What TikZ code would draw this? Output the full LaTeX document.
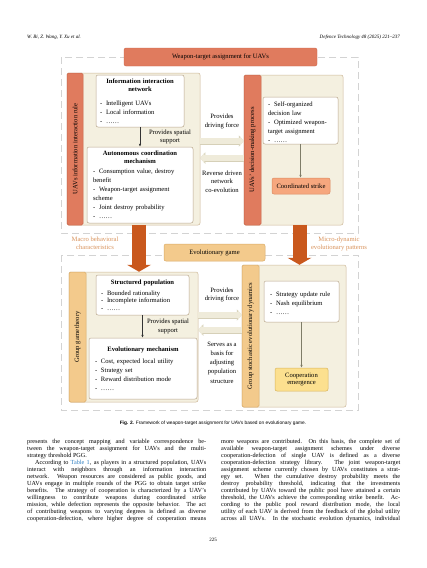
\documentclass[tikz,border=0pt]{standalone}
\usepackage{fontspec}
\setmainfont{Liberation Serif}
\setsansfont{Liberation Sans}
\usetikzlibrary{arrows.meta,positioning,calc}
\definecolor{salmon}{HTML}{E07B5E}
\definecolor{salmonline}{HTML}{C9664B}
\definecolor{cream}{HTML}{F4F0E0}
\definecolor{creamline}{HTML}{CDB898}
\definecolor{lowtan}{HTML}{F3CA8C}
\definecolor{tanline}{HTML}{D9AA66}
\definecolor{peach}{HTML}{F6A77E}
\definecolor{peachline}{HTML}{DB8A5F}
\definecolor{yolk}{HTML}{FCE08F}
\definecolor{yolkline}{HTML}{D8B35B}
\definecolor{rust}{HTML}{C9581D}
\definecolor{pale}{HTML}{EFEBDA}
\definecolor{paleline}{HTML}{D6D0B8}
\definecolor{labelorange}{HTML}{D9925A}
\definecolor{linkblue}{HTML}{2F7FC1}
\definecolor{dashgrey}{HTML}{D3D3D3}
\definecolor{wboxline}{HTML}{B9A78C}
\definecolor{olive}{HTML}{7E7C68}
\newcommand\hd[1]{{\fontsize{6.6}{7.5}\selectfont\bfseries\centering #1\par}}
\newcommand\bitem[1]{\par\hangindent=6pt\hangafter=1\noindent\makebox[6pt][l]{-}#1}
\begin{document}
\begin{tikzpicture}[x=1pt, y=-1pt, >=Latex,
  txt/.style={font=\fontsize{6.6}{8.4}\selectfont, inner sep=0pt, align=center},
  region/.style={draw=dashgrey, line width=.6pt, dash pattern=on 7pt off 4pt},
  titlebox/.style={draw=salmonline, fill=salmon, rounded corners=2pt, inner sep=0pt, font=\fontsize{6.6}{8}\selectfont},
  panel/.style={draw=creamline, fill=cream, rounded corners=2pt, line width=.5pt, inner sep=0pt},
  stripu/.style={rotate=90, draw=salmonline, fill=salmon, rounded corners=1.5pt, line width=.5pt, inner sep=0pt, font=\fontsize{6.6}{8}\selectfont},
  stripl/.style={stripu, draw=tanline, fill=lowtan},
  wbox/.style={draw=wboxline, fill=white, rounded corners=2pt, line width=.5pt, inner sep=0pt, align=left, font=\fontsize{6.6}{9}\selectfont},
  smallbox/.style={rounded corners=2pt, line width=.5pt, inner sep=0pt, align=center, font=\fontsize{6.6}{7.6}\selectfont},
  thin arrow/.style={draw=black!80, line width=.5pt, -{Latex[length=3pt,width=2.5pt]}},
  olive arrow/.style={draw=olive, line width=.8pt, -{Latex[length=3pt,width=2.6pt]}},
  hollow/.style={draw=pale, line width=6pt, -{Triangle[length=4pt,width=10pt,line width=0pt]},
    preaction={draw=paleline, line width=7pt, -{Triangle[length=5pt,width=11.5pt,line width=0pt]}}},
  bigarrow/.style={draw=rust, line width=14pt, -{Triangle[length=7pt,width=24pt,line width=0pt]}},
  bodyline/.style={anchor=base west, inner sep=0pt, font=\fontsize{6.2}{7}\selectfont}]
\useasboundingbox[fill=white] (0,0) rectangle (427,568);

% page head
\node[anchor=base west, inner sep=0pt, font=\fontsize{5}{6}\selectfont\itshape] (hdl) at (27,38) {W. Bi, Z. Wang, Y. Xu et al.};
\node[anchor=base east, inner sep=0pt, font=\fontsize{5}{6}\selectfont\itshape] (hdr) at (400,38) {Defence Technology 48 (2025) 221--237};

% dashed regions
\draw[region] (61,57) rectangle (358,233);
\draw[region] (61,255) rectangle (358,410);
\node[titlebox, minimum width=193pt, minimum height=18pt] (wta) at (220.5,57) {Weapon-target assignment for UAVs};

% upper part
\node[panel, minimum width=133pt, minimum height=152pt] (ulbox) at (133.5,149) {};
\node[stripu, minimum width=152pt, minimum height=16pt] (ulstrip) at (75,149) {UAVs information interaction rule};
\node[wbox, minimum height=52pt, text width=80pt, inner xsep=4pt] (info) at (140,101)
  {\hd{Information interaction\\network}\vspace{5pt}\bitem{Intelligent UAVs}\bitem{Local information}\bitem{……}};
\node[wbox, minimum height=76pt, text width=94pt, inner xsep=6pt] (amb) at (140,185)
  {\hd{Autonomous coordination\\mechanism}\vspace{1pt}\bitem{Consumption value, destroy\\benefit}\bitem{Weapon-target assignment\\scheme}\bitem{Joint destroy probability}\bitem{……}};
\draw[thin arrow] (info) -- (amb);
\node[txt] (spatial1) at (170,137) {Provides spatial\\support};

\node[panel, minimum width=99pt, minimum height=150pt] (urbox) at (293.5,150) {};
\node[stripu, minimum width=150pt, minimum height=17pt] (urstrip) at (252.5,150) {UAVs' decision-making process};
\node[wbox, minimum height=47pt, text width=65pt, inner xsep=5pt] (urlist) at (300.5,120.5)
  {\bitem{Self-organized\\decision law}\bitem{Optimized weapon-\\target assignment}\bitem{……}};
\node[smallbox, fill=peach, draw=peachline, minimum width=58pt, minimum height=16pt] (strike) at (301,186) {Coordinated strike};
\draw[olive arrow] (urlist.south) -- (urlist.south |- strike.north);

\coordinate (d1) at (0,141);
\coordinate (d2) at (0,158);
\node[txt] (drive1) at (222,121.5) {Provides\\driving force};
\draw[hollow] (ulbox.east |- d1) -- (urbox.west |- d1);
\draw[hollow] (urbox.west |- d2) -- (ulbox.east |- d2);
\node[txt] (reverse) at (222,181.5) {Reverse driven\\network\\co-evolution};

% middle
\node[txt, text=labelorange] (macro) at (95,243) {Macro behavioral\\characteristics};
\node[txt, text=labelorange] (micro) at (339,244) {Micro-dynamic\\evolutionary patterns};
\node[smallbox, fill=lowtan, draw=tanline, minimum width=101pt, minimum height=17pt] (evo) at (214.5,252.5) {Evolutionary game};

% lower part
\node[panel, minimum width=129pt, minimum height=130pt] (llbox) at (133.5,337) {};
\node[stripl, minimum width=130pt, minimum height=17pt] (llstrip) at (77.5,337) {Group game theory};
\node[wbox, minimum height=40pt, text width=83pt, inner xsep=5pt, font=\fontsize{6.6}{7.6}\selectfont] (sp) at (142.5,295)
  {\hd{Structured population}\vspace{3.5pt}\bitem{Bounded rationality}\bitem{Incomplete information}\bitem{……}};
\node[wbox, minimum height=61pt, text width=96pt, inner xsep=6pt] (em) at (143,368.5)
  {\hd{Evolutionary mechanism}\vspace{3pt}\bitem{Cost, expected local utility}\bitem{Strategy set}\bitem{Reward distribution mode}\bitem{……}};
\draw[thin arrow] (sp.south) -- (sp.south |- em.north);
\node[txt] (spatial2) at (168,326.5) {Provides spatial\\support};

\node[panel, minimum width=104pt, minimum height=142pt] (lrbox) at (294,336) {};
\node[stripl, minimum width=142pt, minimum height=17pt] (lrstrip) at (250.5,336) {Group stochastic evolutionary dynamics};
\node[wbox, minimum height=41pt, text width=63pt, inner xsep=6pt] (lrlist) at (301.5,301.5)
  {\bitem{Strategy update rule}\bitem{Nash equilibrium}\bitem{……}};
\node[smallbox, fill=yolk, draw=yolkline, minimum width=53pt, minimum height=23pt] (coop) at (301.5,379.5) {Cooperation\\emergence};
\draw[olive arrow] (lrlist) -- (coop);

\coordinate (d3) at (0,315);
\coordinate (d4) at (0,330);
\node[txt] (drive2) at (222,295) {Provides\\driving force};
\draw[hollow] (llbox.east |- d3) -- (lrbox.west |- d3);
\draw[hollow] (lrbox.west |- d4) -- (llbox.east |- d4);
\node[txt, font=\fontsize{6.6}{9.2}\selectfont] (serves) at (222,362.5) {Serves as a\\basis for\\adjusting\\population\\structure};

% big arrows
\coordinate (a1) at (139,0);
\coordinate (a2) at (299.5,0);
\draw[bigarrow] (ulbox.south -| a1) -- (llbox.north -| a1);
\draw[bigarrow] (urbox.south -| a2) -- (lrbox.north -| a2);

% caption and text
\node[anchor=base, inner sep=0pt, font=\sffamily\fontsize{4.8}{6}\selectfont] (cap) at (213,424)
  {\textbf{Fig. 2.} Framework of weapon-target assignment for UAVs based on evolutionary game.};
\foreach \row [count=\i from 0] in {
  {presents the concept mapping and variable correspondence be-},
  {tween the weapon-target assignment for UAVs and the multi-},
  {strategy threshold PGG.\hfill},
  {\hspace*{8pt}According to \textcolor{linkblue}{Table 1}, as players in a structured population, UAVs},
  {interact with neighbors through an information interaction},
  {network. Weapon resources are considered as public goods, and},
  {UAVs engage in multiple rounds of the PGG to obtain target strike},
  {benefits. The strategy of cooperation is characterized by a UAV's},
  {willingness to contribute weapons during coordinated strike},
  {mission, while defection represents the opposite behavior. The act},
  {of contributing weapons to varying degrees is defined as diverse},
  {cooperation-defection, where higher degree of cooperation means}}
  \node[bodyline] (lft\i) at (27,443+7*\i) {\makebox[179pt][s]{\row}};
\foreach \row [count=\i from 0] in {
  {more weapons are contributed. On this basis, the complete set of},
  {available weapon-target assignment schemes under diverse},
  {cooperation-defection of single UAV is defined as a diverse},
  {cooperation-defection strategy library. The joint weapon-target},
  {assignment scheme currently chosen by UAVs constitutes a strat-},
  {egy set. When the cumulative destroy probability meets the},
  {destroy probability threshold, indicating that the investments},
  {contributed by UAVs toward the public pool have attained a certain},
  {threshold, the UAVs achieve the corresponding strike benefit. Ac-},
  {cording to the public pool reward distribution mode, the local},
  {utility of each UAV is derived from the feedback of the global utility},
  {across all UAVs. In the stochastic evolution dynamics, individual}}
  \node[bodyline] (rgt\i) at (221,443+7*\i) {\makebox[179pt][s]{\row}};
\node[anchor=base, inner sep=0pt, font=\fontsize{5}{6}\selectfont] (pgno) at (213,541) {225};
\end{tikzpicture}
\end{document}
